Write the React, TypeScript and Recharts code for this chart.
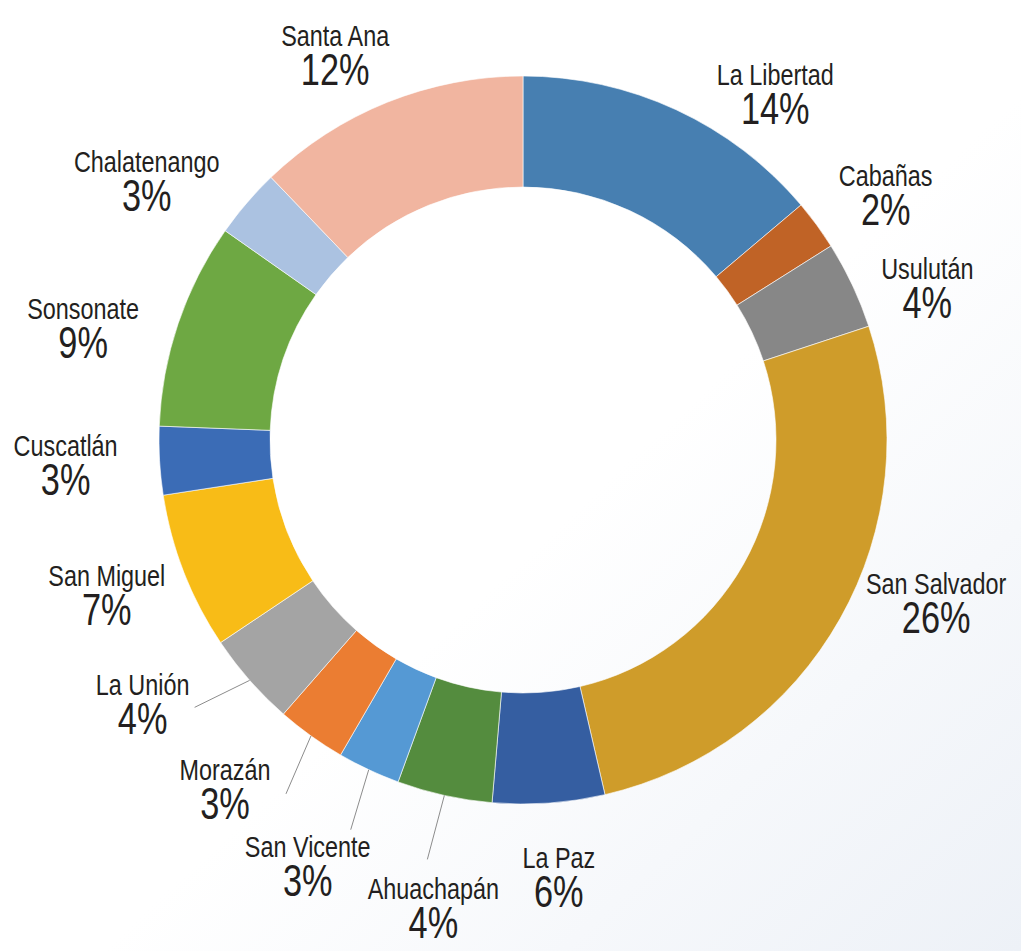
import { PieChart, Pie, Cell } from 'recharts';

// departments, clockwise from 12 o'clock
const regions = [
  'La Libertad', 'Cabañas', 'Usulután', 'San Salvador', 'La Paz', 'Ahuachapán', 'San Vicente',
  'Morazán', 'La Unión', 'San Miguel', 'Cuscatlán', 'Sonsonate', 'Chalatenango', 'Santa Ana',
];
// share of the ring
const shares = [13.83, 2.22, 3.89, 26.44, 4.97, 4.22, 2.78, 3.08, 4.17, 6.97, 3.03, 9.14, 3.08, 12.17];
// printed labels
const pctLabels = ['14%', '2%', '4%', '26%', '6%', '4%', '3%', '3%', '4%', '7%', '3%', '9%', '3%', '12%'];

const colors = [
  '#477fb1', '#c06326', '#878787', '#cf9c2a', '#355ea1', '#548c3e', '#5599d4',
  '#eb7d32', '#a4a4a4', '#f8bc17', '#3b6cb6', '#6ea843', '#abc2e1', '#f1b5a0',
];

// label block centre, relative to the outer edge at each slice's mid angle
const labelOffsets: [number, number][] = [
  [99, -19], [69, -33], [75, 0], [96, -19], [10, 71], [-11, 110], [-61, 93],
  [-86, 50], [-107, 21], [-77, 20], [-94, 1], [-95, 1], [-100, -25], [-52, -50],
];
// leader line ends (only for the crowded bottom-left slices)
const leaderEnds: Record<number, [number, number]> = {
  5: [-17, 64],
  6: [-18, 60],
  7: [-25, 58],
  8: [-55, 27],
};

const RAD = Math.PI / 180;
const font = "'Liberation Sans', Arial, sans-serif";
const squeeze = 0.78; // condensed look, no narrow face installed

const data = regions.map((name, i) => ({ name, value: shares[i], pct: pctLabels[i] }));

function renderLabel(props: any) {
  const { cx, cy, midAngle, outerRadius, index } = props;
  const ax = cx + outerRadius * Math.cos(-midAngle * RAD);
  const ay = cy + outerRadius * Math.sin(-midAngle * RAD);
  const [dx, dy] = labelOffsets[index];
  const bx = ax + dx;
  const by = ay + dy;
  const lead = leaderEnds[index];
  return (
    <g key={`lbl-${index}`}>
      {lead && (
        <line x1={ax} y1={ay} x2={ax + lead[0]} y2={ay + lead[1]} stroke="#8c8c8c" strokeWidth={1} />
      )}
      <g transform={`translate(${bx},${by - 6}) scale(${squeeze},1)`}>
        <text x={0} y={0} textAnchor="middle" fontFamily={font} fontSize={30} fill="#231f20">
          {data[index].name}
        </text>
      </g>
      <g transform={`translate(${bx},${by + 33}) scale(${squeeze},1)`}>
        <text x={0} y={0} textAnchor="middle" fontFamily={font} fontSize={44} fill="#231f20">
          {data[index].pct}
        </text>
      </g>
    </g>
  );
}

export default function App() {
  return (
    <div
      style={{
        position: 'absolute',
        left: 0,
        top: 0,
        width: 1021,
        height: 951,
        background: 'linear-gradient(to bottom right, #ffffff 55%, #edf1f7 100%)',
      }}
    >
      <PieChart width={1021} height={951} margin={{ top: 0, right: 0, bottom: 0, left: 0 }}>
        <Pie
          data={data}
          dataKey="value"
          nameKey="name"
          cx={523}
          cy={440}
          innerRadius={253}
          outerRadius={364}
          startAngle={90}
          endAngle={-270}
          stroke="#ffffff"
          strokeWidth={0.6}
          label={renderLabel}
          labelLine={false}
          isAnimationActive={false}
        >
          {data.map((d, i) => (
            <Cell key={d.name} fill={colors[i]} />
          ))}
        </Pie>
      </PieChart>
    </div>
  );
}
